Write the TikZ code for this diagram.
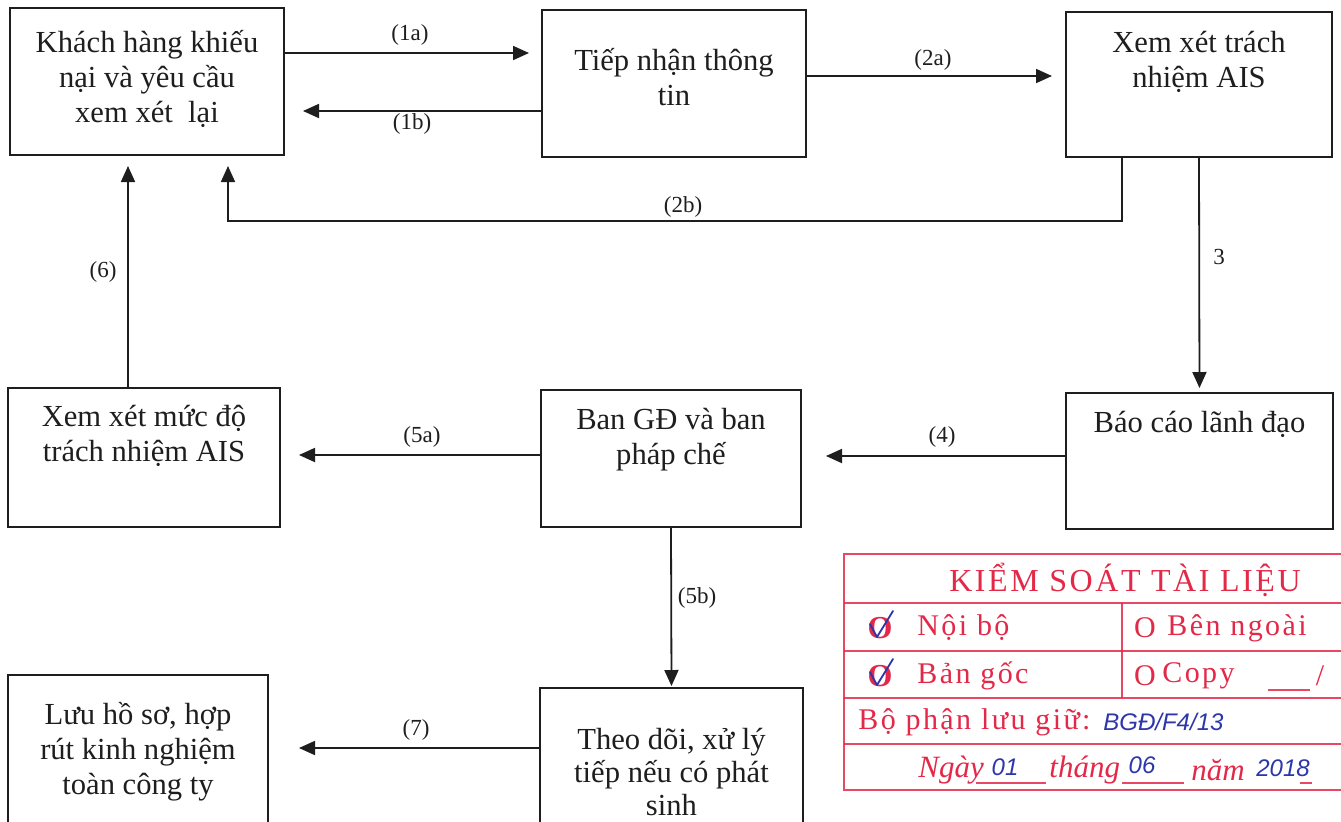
\documentclass[tikz,border=0pt]{standalone}
\usepackage{fontspec}
\setmainfont{Liberation Serif}
\newfontfamily\handfont{Liberation Sans}
\newfontfamily\stampfont[LetterSpace=8]{Liberation Serif}
\newfontfamily\stampplain{Liberation Serif}
\usetikzlibrary{arrows.meta}
\definecolor{ink}{RGB}{30,30,30}
\definecolor{stampred}{RGB}{228,40,72}
\definecolor{penblue}{RGB}{45,55,170}
\begin{document}
\begin{tikzpicture}[x=0.5pt,y=-0.5pt,
  box/.style={draw=ink,line width=1pt,inner sep=0pt},
  btext/.style={font=\fontsize{15.3}{17.5}\selectfont,align=center,text=ink,inner sep=0pt},
  lbl/.style={font=\fontsize{11.5}{13}\selectfont,text=ink,inner sep=0pt},
  arr/.style={draw=ink,line width=0.9pt,-{Triangle[length=8pt,width=7pt]}},
  sline/.style={draw=stampred,line width=0.9pt,opacity=0.85},
  stxt/.style={text=stampred,inner sep=0pt,font=\stampfont\fontsize{15}{18}\selectfont},
  itxt/.style={text=stampred,inner sep=0pt,font=\stampplain\itshape\fontsize{15.5}{18}\selectfont},
  htxt/.style={text=penblue,inner sep=0pt,font=\handfont\itshape\fontsize{12}{14}\selectfont},
  check/.style={draw=penblue,line width=0.9pt,line cap=round,line join=round}]
\useasboundingbox (0,0) rectangle (1341,821);
\clip (0,0) rectangle (1341,821);
\fill[white] (0,0) rectangle (1341,821);

% boxes
\node[box,minimum width=137pt,minimum height=73.5pt] (A) at (147,81.5) {};
\node[box,minimum width=132pt,minimum height=73.5pt] (B) at (674,83.5) {};
\node[box,minimum width=133pt,minimum height=72.5pt] (C) at (1199,84.5) {};
\node[box,minimum width=133.5pt,minimum height=68pt] (D) at (1199.5,461) {};
\node[box,minimum width=130pt,minimum height=68.5pt] (E) at (671,458.5) {};
\node[box,minimum width=136pt,minimum height=69.5pt] (F) at (144,457.5) {};
\node[box,minimum width=131.5pt,minimum height=81pt] (G) at (671.5,769) {};
\node[box,minimum width=130pt,minimum height=87.5pt] (H) at (138,762.5) {};

% box texts
\node[btext] (At) at (147,79) {Khách hàng khiếu\\nại và yêu cầu\\xem xét~~lại};
\node[btext] (Bt) at (674,77) {Tiếp nhận thông\\tin};
\node[btext] (Ct) at (1199,62) {Xem xét trách\\nhiệm AIS};
\node[btext] (Dt) at (1199.5,424) {Báo cáo lãnh đạo};
\node[btext] (Et) at (671,440) {Ban GĐ và ban\\pháp chế};
\node[btext] (Ft) at (144,436) {Xem xét mức độ\\trách nhiệm AIS};
\node[btext,font=\fontsize{15.3}{16.5}\selectfont] (Gt) at (671.5,772) {Theo dõi, xử lý\\tiếp nếu có phát\\sinh};
\node[btext] (Ht) at (138,752) {Lưu hồ sơ, hợp\\rút kinh nghiệm\\toàn công ty};

% connectors
\coordinate (b1) at (1122,221);
\coordinate (b2) at (228,221);
\draw[arr,shorten >=6pt] (A.east|-0,53) -- (B.west|-0,53);
\draw[arr,shorten >=9pt] (B.west|-0,111) -- (A.east|-0,111);
\draw[arr,shorten >=6.5pt] (B.east|-0,76) -- (C.west|-0,76);
\draw[arr,shorten >=5pt] (C.south-|b1) -- (b1) -- (b2) -- (A.south-|b2);
\draw[arr,shorten >=2pt] (C.south) -- (D.north);
\draw[arr,shorten >=12pt] (D.west|-0,456) -- (E.east|-0,456);
\draw[arr,shorten >=9pt] (E.west|-0,455) -- (F.east|-0,455);
\draw[arr,shorten >=5pt] (F.north-|128,0) -- (A.south-|128,0);
\draw[arr,shorten >=0.5pt] (E.south) -- (G.north);
\draw[arr,shorten >=15pt] (G.west|-0,748) -- (H.east|-0,748);

% connector labels
\node[lbl] (l1a) at (410,35) {(1a)};
\node[lbl] (l1b) at (412,124) {(1b)};
\node[lbl] (l2a) at (933,60) {(2a)};
\node[lbl] (l2b) at (683,207) {(2b)};
\node[lbl] (l3) at (1219,257) {3};
\node[lbl] (l4) at (942,437) {(4)};
\node[lbl] (l5a) at (422,437) {(5a)};
\node[lbl] (l6) at (103,272) {(6)};
\node[lbl] (l5b) at (697,598) {(5b)};
\node[lbl] (l7) at (416,730) {(7)};

% stamp
\draw[sline] (844,554) rectangle (1350,790);
\draw[sline] (844,603) -- (1350,603);
\draw[sline] (844,651) -- (1350,651);
\draw[sline] (844,698) -- (1350,698);
\draw[sline] (844,744) -- (1350,744);
\draw[sline] (1122,603) -- (1122,698);
\node[stxt,font=\stampfont\fontsize{16}{18}\selectfont] (st) at (1125,580) {KIỂM SOÁT TÀI LIỆU};
\node[stxt,font=\stampplain\bfseries\fontsize{16}{18}\selectfont] (o1) at (880,628) {O};
\draw[check] (870,624) -- (877,637) -- (893,611);
\node[stxt,anchor=west] (s1) at (917,628) {Nội bộ};
\node[stxt] (o2) at (1145,628) {O};
\node[stxt,anchor=west] (s2) at (1167,628) {Bên ngoài};
\node[stxt,font=\stampplain\bfseries\fontsize{16}{18}\selectfont] (o3) at (880,676) {O};
\draw[check] (870,672) -- (877,685) -- (893,659);
\node[stxt,anchor=west] (s3) at (917,676) {Bản gốc};
\node[stxt] (o4) at (1145,676) {O};
\node[stxt,anchor=west] (s4) at (1162,676) {Copy};
\draw[sline] (1268,690) -- (1310,690);
\node[stxt] (s5) at (1320,676) {/};
\node[stxt,anchor=west] (s6) at (858,722) {Bộ phận lưu giữ:};
\node[htxt,anchor=west] (h1) at (1103,722) {BGĐ/F4/13};
\node[itxt,anchor=west] (s7) at (918,770) {Ngày};
\draw[sline] (976,783) -- (1046,783);
\node[htxt] (h2) at (1005,767) {01};
\node[itxt,anchor=west] (s8) at (1049,770) {tháng};
\draw[sline] (1122,783) -- (1184,783);
\node[htxt] (h3) at (1142,765) {06};
\node[itxt,anchor=west] (s9) at (1191,770) {năm};
\node[htxt] (h4) at (1283,768) {2018};
\draw[sline] (1300,783) -- (1312,783);
\end{tikzpicture}
\end{document}
